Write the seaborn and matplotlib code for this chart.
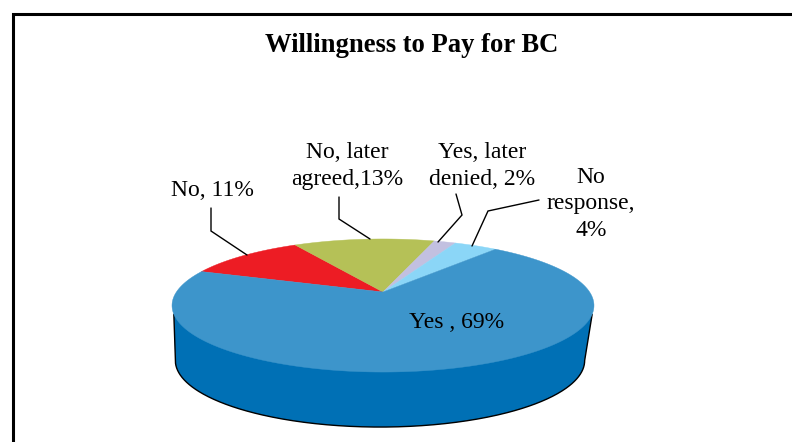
import numpy as np
import matplotlib
matplotlib.use("Agg")
import matplotlib.pyplot as plt
import seaborn as sns

# Survey responses, clockwise from the red slice
categories = ["No", "No, later agreed", "Yes, later denied", "No response", "Yes"]
shares = [11, 13, 2, 4, 69]
slice_labels = ["No, 11%", "No, later\nagreed,13%", "Yes, later\ndenied, 2%",
                "No\nresponse,\n4%", "Yes , 69%"]
label_spots = [(212, 191), (347, 166), (482, 166), (591, 204), (457, 323)]
leader_paths = [
    [(211, 208), (211, 231), (247, 255)],
    [(339, 197), (339, 219), (370, 239)],
    [(456, 194), (462, 215), (438, 242)],
    [(539, 200), (488, 211), (472, 246)],
    None,
]
slice_colors = ["#ED1C24", "#B5C157", "#C2C0E0", "#8BD6F7", "#3D95CB"]
side_color = "#0070B5"
title_text = "Willingness to Pay for BC"

# Perspective of the tilted disc, in pixel coordinates
centre_x, centre_y = 383, 292
scale_x, scale_y, tilt = 206.6, 63.8, 0.203
depth = 55

sns.set_theme(style="white")
plt.rcParams["font.family"] = ["Liberation Serif", "DejaVu Serif"]


def project(u, v, x_shrink=1.0, drop=0.0, shift=0.0):
    """Map unit-disc coordinates (v pointing away) onto the page."""
    w = 1 + tilt * v
    return (centre_x + shift + x_shrink * scale_x * u / w,
            centre_y + drop - scale_y * v / w)


fig = plt.figure(figsize=(7.92, 4.42), dpi=100)
ax = fig.add_axes([0, 0, 1, 1])

# The pie supplies the slice angles; each slice is then re-projected
wedges, _ = ax.pie(shares, startangle=160, counterclock=False, radius=1,
                   colors=sns.color_palette(slice_colors))
wedge_spans = [(w.theta1, w.theta2) for w in wedges]
for wedge in wedges:
    wedge.remove()

ax.set_aspect("auto")
ax.set_xlim(0, 792)
ax.set_ylim(442, 0)
ax.axis("off")

# Cylinder wall: the front rim repeated lower down, narrower and a little to
# the left, joined to the disc by short edges just below its widest points
start = np.pi + np.arcsin(tilt)
theta = np.linspace(start, 3 * np.pi - start, 400)
low_x, low_y = project(np.cos(theta), np.sin(theta), x_shrink=0.97, drop=depth, shift=-3)
edge_u = abs(np.cos(np.radians(199)))
edge_v = np.sin(np.radians(199))
left_x, left_y = project(-edge_u, edge_v)
right_x, right_y = project(edge_u, edge_v)
side_x = np.concatenate([[left_x], low_x, [right_x]])
side_y = np.concatenate([[left_y], low_y, [right_y]])
ax.fill(side_x, side_y, color=side_color, lw=0, zorder=1)
ax.plot(side_x, side_y, color="black", lw=1.0, zorder=1.5)

# Disc top
for (t1, t2), color in zip(wedge_spans, slice_colors):
    arc = np.radians(np.linspace(t1, t2, 200))
    u = np.concatenate([[0], np.cos(arc)])
    v = np.concatenate([[0], np.sin(arc)])
    px, py = project(u, v)
    ax.fill(px, py, facecolor=color, edgecolor=color, lw=0.3, zorder=2)

# Labels and their leader lines
for text, (tx, ty), leader in zip(slice_labels, label_spots, leader_paths):
    ax.text(tx, ty, text, ha="center", va="center", fontsize=17,
            linespacing=1.36, color="black", zorder=4)
    if leader is not None:
        lx, ly = zip(*leader)
        ax.plot(lx, ly, color="black", lw=1.0, zorder=3, solid_joinstyle="miter")

ax.text(412, 45, title_text, ha="center", va="center", fontsize=19.2,
        fontweight="bold", color="black")

# Page frame, running off the right and bottom edges
ax.plot([12.5, 12.5, 792], [442, 14, 14], color="black", lw=2.2,
        solid_joinstyle="miter", clip_on=False)

fig.savefig("out.png", dpi=100, facecolor="white")
